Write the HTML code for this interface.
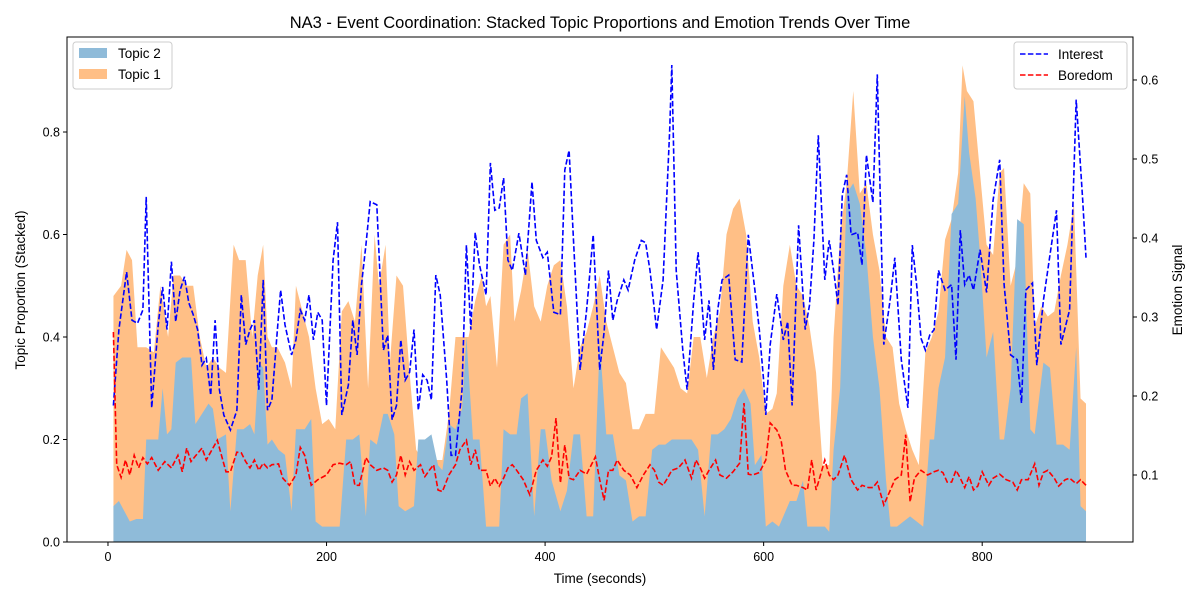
<!DOCTYPE html>
<html><head><meta charset="utf-8">
<style>
body{margin:0;background:#fff;}
svg{display:block;font-family:"Liberation Sans","DejaVu Sans",sans-serif;}
</style></head>
<body>
<svg id="chart" width="1200" height="600" viewBox="0 0 1200 600">
<rect width="1200" height="600" fill="#fff"/>
<g id="areas"></g>
<g id="lines"></g>
<rect x="67" y="37" width="1066" height="505" fill="none" stroke="#000" stroke-width="1"/>
<g id="axes"></g>
<text x="600" y="28" text-anchor="middle" font-size="16.5">NA3 - Event Coordination: Stacked Topic Proportions and Emotion Trends Over Time</text>
<text x="600" y="583" text-anchor="middle" font-size="13.5">Time (seconds)</text>
<text transform="translate(25,290) rotate(-90)" text-anchor="middle" font-size="13.5">Topic Proportion (Stacked)</text>
<text transform="translate(1182,290) rotate(-90)" text-anchor="middle" font-size="13.5">Emotion Signal</text>
<g>
<rect x="73" y="42" width="99" height="47" rx="3" fill="#fff" fill-opacity="0.8" stroke="#ccc"/>
<rect x="79" y="48" width="28" height="10" fill="#8fbbd9"/>
<text x="118" y="58" font-size="13.5">Topic 2</text>
<rect x="79" y="69" width="28" height="10" fill="#ffbf86"/>
<text x="118" y="79" font-size="13.5">Topic 1</text>
</g>
<g>
<rect x="1014" y="42" width="113" height="47" rx="3" fill="#fff" fill-opacity="0.8" stroke="#ccc"/>
<line x1="1020" y1="54" x2="1048" y2="54" stroke="#0000ff" stroke-width="1.5" stroke-dasharray="5.5,2.4"/>
<text x="1058" y="59" font-size="13.5">Interest</text>
<line x1="1020" y1="75" x2="1048" y2="75" stroke="#ff0000" stroke-width="1.5" stroke-dasharray="5.5,2.4"/>
<text x="1058" y="80" font-size="13.5">Boredom</text>
</g>
</svg>
<script>
const xTicks=[0,200,400,600,800];
const leftTicks=[0.0,0.2,0.4,0.6,0.8];
const rightTicks=[0.1,0.2,0.3,0.4,0.5,0.6];

const totalTimes=[5,12,17,22,27,35,42,48,55,60,66,72,78,84,90,96,102,108,115,120,126,132,137,142,146,150,155,162,168,172,178,184,190,196,202,208,214,220,226,232,238,244,248,254,258,264,270,276,282,288,294,300,306,312,318,324,330,336,342,346,350,356,362,368,372,378,384,390,396,402,408,414,420,426,432,438,444,450,456,462,468,474,480,486,492,500,506,512,518,524,530,536,542,548,554,560,566,572,578,584,590,596,602,608,612,618,624,630,636,642,648,654,660,664,670,676,682,688,694,700,706,712,718,724,730,736,742,748,754,760,766,772,778,782,786,792,798,804,810,816,820,826,832,838,844,848,854,860,866,872,878,884,890,895];
const stackTotal=[.48,.50,.57,.55,.38,.38,.37,.50,.40,.52,.52,.50,.50,.40,.34,.36,.34,.33,.58,.55,.55,.40,.52,.58,.40,.38,.38,.35,.30,.50,.45,.40,.30,.23,.24,.22,.45,.47,.43,.58,.30,.60,.50,.58,.35,.52,.50,.33,.18,.16,.18,.16,.16,.25,.40,.40,.40,.47,.52,.46,.48,.34,.58,.60,.43,.49,.57,.46,.43,.50,.54,.55,.46,.30,.38,.41,.46,.52,.43,.38,.33,.31,.22,.22,.25,.25,.38,.36,.34,.30,.29,.40,.40,.32,.40,.45,.60,.65,.67,.60,.43,.36,.25,.26,.29,.50,.58,.50,.48,.42,.33,.15,.15,.40,.60,.70,.88,.68,.70,.60,.53,.40,.38,.27,.22,.18,.15,.37,.40,.45,.59,.63,.72,.93,.88,.86,.72,.58,.56,.72,.73,.50,.55,.70,.68,.42,.46,.44,.45,.52,.58,.66,.28,.27];

const topic2Times=[5,10,15,20,26,32,35,42,46,50,54,58,62,68,72,76,80,86,92,96,100,108,112,118,124,130,134,138,142,146,150,156,162,168,172,180,186,190,196,204,212,218,224,230,236,240,246,252,256,262,266,272,280,284,290,296,302,306,312,318,324,328,334,340,346,352,358,362,368,374,378,384,390,396,400,406,414,420,426,432,438,444,450,456,462,468,474,480,486,492,498,504,510,516,522,528,534,540,546,552,558,564,570,576,582,588,592,598,602,608,614,618,624,630,636,640,646,652,656,660,664,670,676,682,688,694,700,706,712,716,722,728,734,740,746,752,756,760,766,772,778,784,788,794,798,804,810,816,820,826,832,838,844,848,856,862,868,874,880,886,890,895];
const topic2=[.07,.08,.06,.04,.045,.045,.20,.20,.20,.30,.21,.22,.35,.36,.36,.36,.23,.25,.27,.26,.20,.21,.06,.22,.22,.23,.21,.35,.34,.19,.20,.18,.17,.06,.22,.22,.24,.04,.03,.03,.03,.20,.20,.21,.05,.20,.19,.25,.25,.21,.07,.06,.07,.20,.20,.21,.15,.14,.23,.22,.26,.40,.20,.20,.03,.03,.03,.22,.21,.21,.28,.29,.05,.22,.22,.12,.06,.10,.21,.21,.05,.05,.39,.21,.21,.13,.12,.04,.05,.05,.18,.19,.19,.20,.20,.20,.20,.18,.05,.21,.21,.22,.24,.28,.30,.27,.15,.17,.03,.04,.03,.05,.08,.08,.12,.03,.03,.03,.03,.02,.18,.30,.68,.70,.66,.56,.40,.30,.12,.03,.03,.04,.05,.04,.03,.20,.20,.30,.36,.64,.66,.87,.76,.67,.56,.36,.41,.20,.20,.30,.63,.62,.22,.21,.35,.34,.19,.19,.18,.38,.07,.06];

const interestTimes=[5,10,17,22,27,32,35,40,46,50,54,58,62,66,70,74,78,82,86,90,94,98,102,106,112,118,122,126,130,134,138,142,146,150,155,158,162,168,172,176,180,184,188,192,196,200,206,210,214,220,224,228,232,236,240,246,252,256,260,264,268,272,276,280,284,288,292,296,300,304,310,314,318,324,328,332,336,340,346,350,354,358,362,366,370,376,382,388,392,398,402,408,414,418,422,426,432,438,444,450,454,458,462,466,472,476,482,488,492,496,502,508,514,516,520,526,530,536,540,546,550,554,558,562,568,574,580,586,592,596,600,602,606,612,618,622,626,632,638,642,646,650,656,660,664,668,672,676,680,686,690,694,700,704,710,716,720,726,732,736,740,744,748,752,756,760,766,772,776,780,784,788,792,798,804,810,816,820,826,832,836,840,846,850,856,862,868,872,880,886,892,895];
const interest=[.188,.284,.357,.296,.292,.309,.452,.185,.290,.338,.284,.370,.294,.334,.351,.318,.303,.284,.239,.248,.201,.296,.208,.176,.157,.182,.328,.265,.284,.296,.208,.347,.182,.195,.284,.334,.290,.252,.271,.309,.296,.328,.271,.306,.296,.188,.372,.420,.176,.214,.296,.252,.341,.391,.446,.442,.258,.277,.170,.188,.271,.220,.230,.284,.182,.227,.220,.195,.353,.328,.220,.125,.125,.208,.391,.284,.407,.366,.328,.495,.435,.438,.476,.372,.359,.406,.353,.471,.397,.375,.382,.306,.303,.486,.511,.397,.233,.309,.404,.233,.281,.359,.296,.321,.347,.334,.372,.397,.394,.359,.284,.347,.537,.619,.359,.258,.208,.321,.382,.271,.321,.233,.309,.347,.353,.246,.243,.404,.334,.284,.220,.176,.265,.329,.271,.294,.188,.416,.284,.315,.397,.530,.347,.397,.359,.315,.455,.480,.404,.407,.366,.505,.445,.607,.265,.324,.375,.246,.185,.391,.341,.273,.258,.277,.284,.359,.334,.341,.246,.410,.341,.353,.334,.385,.331,.448,.499,.341,.252,.246,.191,.334,.343,.239,.321,.378,.435,.265,.309,.575,.448,.375];

const boredomTimes=[5,8,12,16,20,24,28,32,36,40,46,52,58,64,68,72,76,80,86,90,96,100,108,112,118,122,126,130,134,138,142,146,150,156,160,166,172,176,180,186,192,200,206,212,218,222,226,230,236,240,246,252,256,260,264,268,272,276,280,286,290,294,298,302,306,312,318,322,328,332,336,340,346,350,354,358,362,366,370,374,380,386,392,398,402,406,410,414,418,422,426,432,438,446,450,454,458,462,466,472,478,484,490,496,500,504,508,512,516,522,528,534,538,542,546,550,556,560,566,572,578,582,586,590,596,602,606,612,616,620,626,630,636,640,644,648,652,656,660,664,668,674,680,686,690,696,700,704,710,716,720,726,730,734,738,744,750,756,760,764,768,772,776,780,784,788,792,796,800,806,810,816,822,828,832,836,842,848,852,856,860,866,870,876,880,886,890,895];
const boredom=[.281,.113,.097,.119,.100,.125,.109,.122,.114,.122,.106,.117,.109,.125,.104,.134,.117,.124,.134,.119,.134,.144,.104,.104,.129,.128,.117,.109,.119,.106,.115,.109,.113,.114,.096,.087,.100,.135,.125,.087,.094,.100,.113,.115,.113,.117,.087,.087,.122,.113,.106,.109,.106,.091,.100,.125,.100,.117,.106,.113,.098,.106,.113,.081,.079,.100,.113,.132,.144,.113,.132,.106,.106,.086,.096,.086,.096,.109,.113,.106,.094,.075,.106,.119,.111,.123,.172,.090,.138,.096,.094,.106,.101,.123,.094,.068,.106,.106,.119,.106,.100,.084,.100,.113,.106,.091,.087,.096,.106,.109,.119,.096,.119,.109,.096,.106,.119,.100,.096,.104,.115,.191,.101,.100,.103,.119,.166,.157,.144,.106,.087,.087,.084,.081,.119,.081,.100,.119,.100,.094,.100,.125,.094,.081,.087,.084,.084,.091,.062,.081,.094,.100,.151,.066,.096,.106,.100,.104,.106,.103,.091,.091,.106,.096,.084,.098,.081,.086,.104,.087,.096,.101,.094,.091,.081,.094,.094,.114,.087,.103,.106,.096,.086,.094,.096,.089,.094,.087];

const X0=67,X1=1133,Y0=542,Y1=37;
const xMin=-37.5,xMax=938, lMin=0,lMax=0.9854, rMin=0.0152,rMax=0.6544;
function sx(t){return X0+(t-xMin)/(xMax-xMin)*(X1-X0);}
function sl(v){return Y0-(v-lMin)/(lMax-lMin)*(Y0-Y1);}
function sr(v){return Y0-(v-rMin)/(rMax-rMin)*(Y0-Y1);}
const NS="http://www.w3.org/2000/svg";
function mk(tag,attrs,parent){const e=document.createElementNS(NS,tag);for(const k in attrs)e.setAttribute(k,attrs[k]);parent.appendChild(e);return e;}
const areas=document.getElementById('areas'),lines=document.getElementById('lines'),axes=document.getElementById('axes');

let d="M"+sx(totalTimes[0])+","+sl(0);
for(let i=0;i<totalTimes.length;i++)d+=" L"+sx(totalTimes[i])+","+sl(stackTotal[i]);
d+=" L"+sx(totalTimes[totalTimes.length-1])+","+sl(0)+"Z";
const a1=mk('path',{d:d,fill:'#ffbf86'},areas);



d="M"+sx(topic2Times[0])+","+sl(0);
for(let i=0;i<topic2Times.length;i++)d+=" L"+sx(topic2Times[i])+","+sl(topic2[i]);
d+=" L"+sx(topic2Times[topic2Times.length-1])+","+sl(0)+"Z";
const a2=mk('path',{d:d,fill:'#8fbbd9'},areas);



function linePath(ts,vs){return ts.map((t,i)=>(i?"L":"M")+sx(t).toFixed(1)+","+sr(vs[i]).toFixed(1)).join(" ");}
const li=mk('path',{d:linePath(interestTimes,interest),fill:'none',stroke:'#0000ff','stroke-width':1.6,'stroke-dasharray':'5.5,2.4'},lines);


const lb=mk('path',{d:linePath(boredomTimes,boredom),fill:'none',stroke:'#ff0000','stroke-width':1.6,'stroke-dasharray':'5.5,2.4'},lines);



xTicks.forEach(v=>{const x=sx(v);
 const tk=mk('line',{x1:x,x2:x,y1:Y0,y2:Y0+4,stroke:'#000'},axes);
 
 
 const tl=mk('text',{x:x,y:Y0+19,'text-anchor':'middle','font-size':12.5},axes);tl.textContent=v;
 
 });
leftTicks.forEach(v=>{const y=sl(v);
 const tk=mk('line',{x1:X0-4,x2:X0,y1:y,y2:y,stroke:'#000'},axes);
 
 
 const tl=mk('text',{x:X0-7,y:y+4.5,'text-anchor':'end','font-size':12.5},axes);tl.textContent=v.toFixed(1);
 
 });
rightTicks.forEach(v=>{const y=sr(v);
 const tk=mk('line',{x1:X1,x2:X1+4,y1:y,y2:y,stroke:'#000'},axes);
 
 
 const tl=mk('text',{x:X1+8,y:y+4.5,'text-anchor':'start','font-size':12.5},axes);tl.textContent=v.toFixed(1);
 
 });
</script>
</body></html>
